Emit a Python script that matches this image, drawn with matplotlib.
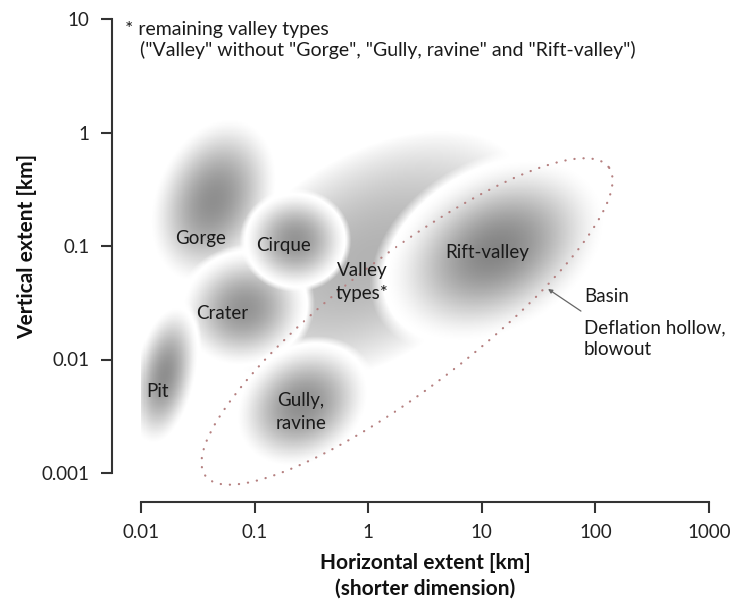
import matplotlib.pyplot as plt
import numpy as np

plt.rcParams["font.family"] = ["Liberation Sans Narrow", "Lato", "DejaVu Sans"]

# axis decades
x_ticks = [0.01, 0.1, 1, 10, 100, 1000]
x_labels = ["0.01", "0.1", "1", "10", "100", "1000"]
y_ticks = [0.001, 0.01, 0.1, 1, 10]
y_labels = ["0.001", "0.01", "0.1", "1", "10"]

# landform fields in log10(km): centre, half axes, tilt (deg), shading depth, falloff power
# listed bottom to top in drawing order
names = ["Valley types", "Gorge", "Crater", "Pit", "Gully", "Cirque", "Rift-valley"]
cx = [0.02, -1.36, -1.09, -1.79, -0.58, -0.64, 1.12]
cy = [-1.10, -0.60, -1.55, -2.14, -2.40, -0.95, -1.04]
half_a = [1.55, 0.76, 0.56, 0.62, 0.62, 0.44, 1.06]
half_b = [0.90, 0.52, 0.50, 0.27, 0.50, 0.41, 0.72]
tilt = [32, 68, 20, 78, 35, 0, 30]
depth = [0.30, 0.44, 0.42, 0.44, 0.44, 0.42, 0.48]
power = [1.0, 1.6, 1.6, 1.6, 1.6, 1.5, 1.9]

label_text = ["Valley\ntypes*", "Gorge", "Crater", "Pit", "Gully,\nravine", "Cirque", "Rift-valley"]
label_x = [0.88, 0.0337, 0.0516, 0.0141, 0.256, 0.178, 11.1]
label_y = [0.0482, 0.1153, 0.0252, 0.00518, 0.00344, 0.1, 0.0885]

# basin / deflation hollow outline, log10(km)
basin_c = (0.342, -1.665)
basin_ab = (2.236, 0.585)
basin_tilt = 37.5

fig = plt.figure(figsize=(7.33, 6.01), dpi=100)
ax = fig.add_axes([141 / 733, 1 - 473 / 601, 568 / 733, 454 / 601])
ax.set_xscale("log")
ax.set_yscale("log")

# shaded fields on a grid that is even in log space
nx, ny = 500, 400
xe = np.linspace(-2, 3, nx + 1)
ye = np.linspace(-3, 1, ny + 1)
X, Y = np.meshgrid((xe[:-1] + xe[1:]) / 2, (ye[:-1] + ye[1:]) / 2)
shade = np.ones_like(X)
for i in range(len(names)):
    t = np.deg2rad(tilt[i])
    dx, dy = X - cx[i], Y - cy[i]
    u = dx * np.cos(t) + dy * np.sin(t)
    v = -dx * np.sin(t) + dy * np.cos(t)
    r = np.hypot(u / half_a[i], v / half_b[i])
    f = np.clip(1 - r**2, 0, 1) ** power[i]
    val = 1 - depth[i] * f
    alpha = np.clip((1.12 - r) / 0.12, 0, 1)
    shade = alpha * val + (1 - alpha) * shade

ax.pcolormesh(10**xe, 10**ye, shade, cmap="gray", vmin=0, vmax=1,
              shading="flat", rasterized=True, zorder=0)

# dotted basin outline
s = np.linspace(0, 2 * np.pi, 500)
bu = basin_ab[0] * np.cos(s)
bv = basin_ab[1] * np.sin(s)
bt = np.deg2rad(basin_tilt)
bx = basin_c[0] + bu * np.cos(bt) - bv * np.sin(bt)
by = basin_c[1] + bu * np.sin(bt) + bv * np.cos(bt)
ax.plot(10**bx, 10**by, color="#b58080", lw=1.6, linestyle=(0, (0.1, 4)),
        dash_capstyle="round", clip_on=False, zorder=2)

for txt, lx, ly in zip(label_text, label_x, label_y):
    ax.text(lx, ly, txt, ha="center", va="center", fontsize=13.5,
            color="#1a1a1a", linespacing=1.4, zorder=3)

ax.annotate("", xy=(38.3, 0.0418), xytext=(74.6, 0.0267),
            arrowprops=dict(arrowstyle="-|>", color="#666666", lw=0.9,
                            mutation_scale=6, shrinkA=0, shrinkB=0))
ax.text(79.4, 0.0356, "Basin", ha="left", va="center", fontsize=13.5, color="#1a1a1a")
ax.text(79.4, 0.0153, "Deflation hollow,\nblowout", ha="left", va="center",
        fontsize=13.5, color="#1a1a1a", linespacing=1.3)

ax.set_xlim(0.01, 1000)
ax.set_ylim(0.001, 10)
ax.set_xticks(x_ticks, x_labels)
ax.set_yticks(y_ticks, y_labels)
ax.minorticks_off()
ax.tick_params(direction="out", length=8, width=1.5, color="#333333",
               labelsize=13.5, labelcolor="#222222", pad=8)

ax.spines[["top", "right"]].set_visible(False)
for side in ["left", "bottom"]:
    ax.spines[side].set_position(("outward", 21))
    ax.spines[side].set_linewidth(1.5)
    ax.spines[side].set_color("#333333")

ax.set_xlabel("Horizontal extent [km]\n(shorter dimension)", fontsize=15,
              fontweight="bold", linespacing=1.35, color="#111111")
ax.xaxis.set_label_coords(0.5, -0.2258)
ax.xaxis.label.set_va("center")
ax.set_ylabel("Vertical extent [km]", fontsize=15, fontweight="bold", color="#111111")
ax.yaxis.set_label_coords(-0.2007, 0.5)
ax.yaxis.label.set_va("center")

fig.text(125 / 733, 1 - 29 / 601, "* remaining valley types", ha="left", va="center",
         fontsize=14, color="#1a1a1a")
fig.text(140 / 733, 1 - 50 / 601,
         '("Valley" without "Gorge", "Gully, ravine" and "Rift-valley")',
         ha="left", va="center", fontsize=14, color="#1a1a1a")

fig.savefig("out.png", dpi=100)
